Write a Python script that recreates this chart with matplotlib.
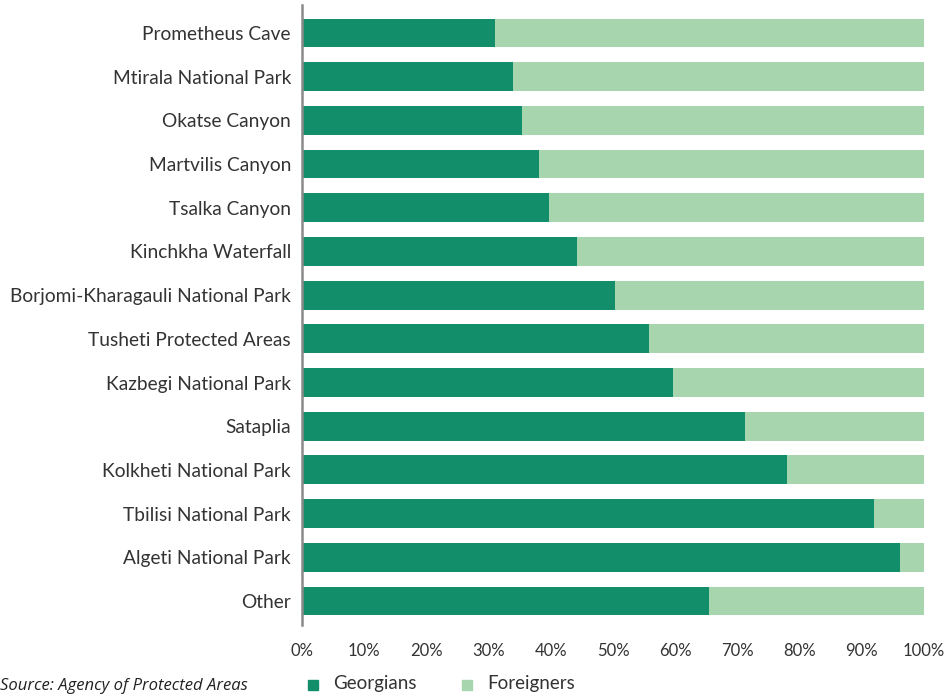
import matplotlib
matplotlib.use("Agg")
import matplotlib.pyplot as plt
from matplotlib.patches import Rectangle

sites = [
    "Prometheus Cave", "Mtirala National Park", "Okatse Canyon", "Martvilis Canyon",
    "Tsalka Canyon", "Kinchkha Waterfall", "Borjomi-Kharagauli National Park",
    "Tusheti Protected Areas", "Kazbegi National Park", "Sataplia",
    "Kolkheti National Park", "Tbilisi National Park", "Algeti National Park", "Other",
]
georgians = [31.0, 33.9, 35.4, 38.1, 39.7, 44.2, 50.3, 55.8, 59.6, 71.2, 78.0, 92.0, 96.1, 65.4]
foreigners = [100 - g for g in georgians]
ticks = [0, 10, 20, 30, 40, 50, 60, 70, 80, 90, 100]
tick_labels = [f"{t}%" for t in ticks]

dark = "#128E6B"
light = "#A6D5AE"
txt = "#333333"

plt.rcParams["font.family"] = ["Lato", "DejaVu Sans"]

W, H = 951, 698
fig = plt.figure(figsize=(W / 100, H / 100), dpi=100)
left, right, top, bottom = 302, 924, 5, 625
ax = fig.add_axes([left / W, 1 - bottom / H, (right - left) / W, (bottom - top) / H])

ypos = list(range(len(sites)))
ax.barh(ypos, georgians, height=0.66, color=dark, label="Georgians")
ax.barh(ypos, foreigners, left=georgians, height=0.66, color=light, label="Foreigners")

ax.set_xlim(0, 100)
ax.set_ylim(13.55, -0.64)
ax.set_yticks(ypos)
ax.set_yticklabels(sites, fontsize=13.8, color=txt)
ax.set_xticks(ticks)
ax.set_xticklabels(tick_labels, fontsize=12, color=txt)
ax.tick_params(axis="both", length=0)
ax.tick_params(axis="y", pad=8)
ax.tick_params(axis="x", pad=13)
for s in ["top", "right", "bottom"]:
    ax.spines[s].set_visible(False)
ax.spines["left"].set_color("#8a8a8a")
ax.spines["left"].set_linewidth(1.8)

# legend drawn in figure pixels
for x0, col, name in [(308, dark, "Georgians"), (462, light, "Foreigners")]:
    fig.patches.append(Rectangle((x0 / W, 1 - 690 / H), 10 / W, 10 / H,
                                 transform=fig.transFigure, color=col))
    fig.text((x0 + 25) / W, 1 - 684 / H, name, fontsize=13.5, color=txt, va="center")

fig.text(0, 1 - 686 / H, "Source: Agency of Protected Areas", fontsize=12,
         style="italic", color="#222222", va="center", ha="left",
         family=["Open Sans", "DejaVu Sans"])

fig.savefig("out.png", dpi=100)
